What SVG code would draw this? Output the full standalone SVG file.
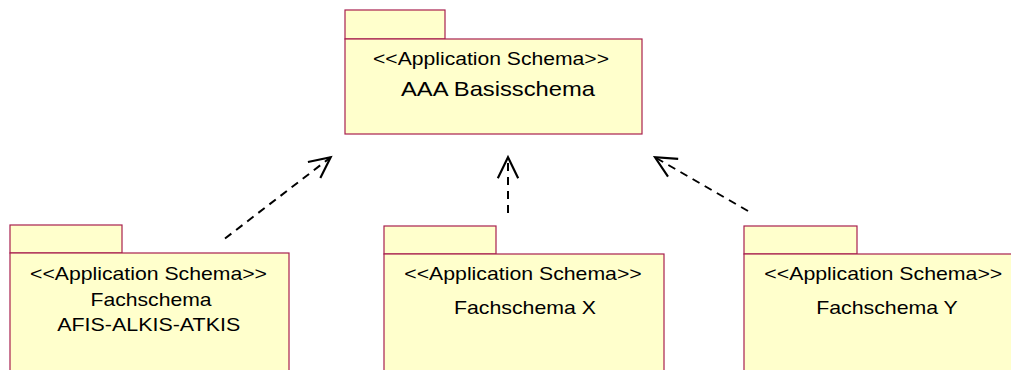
<svg xmlns="http://www.w3.org/2000/svg" width="1011" height="370" viewBox="0 0 1011 370">
<style>
.pk{fill:#FFFFCC;stroke:#A8204E;stroke-width:1.2}
.t{font-family:"Liberation Sans",Arial,sans-serif;fill:#000;text-anchor:middle}
.s{font-size:18.5px}
.b{font-size:21px}
.dep{fill:none;stroke:#000;stroke-width:2;stroke-dasharray:8,6}
.ah{fill:none;stroke:#000;stroke-width:2}
</style>
<defs>
<marker id="open" markerUnits="userSpaceOnUse" markerWidth="30" markerHeight="30" refX="0" refY="0" viewBox="-24 -12 28 24" orient="auto" overflow="visible">
<path d="M-19.5,-9.5 L0,0 L-19.5,9.5" class="ah"/>
</marker>
</defs>
<rect width="1011" height="370" fill="#fff"/>
<g id="basis">
<rect class="pk" x="345" y="10" width="100" height="29"/>
<rect class="pk" x="345" y="39" width="297" height="95"/>
<text class="t" style="font-size:17.5px" x="491" y="65" textLength="236" lengthAdjust="spacingAndGlyphs">&lt;&lt;Application Schema&gt;&gt;</text>
<text class="t b" x="498" y="95.5" textLength="194" lengthAdjust="spacingAndGlyphs">AAA Basisschema</text>
</g>
<g id="afis">
<rect class="pk" x="10" y="225" width="112" height="28"/>
<rect class="pk" x="10" y="253" width="279" height="130"/>
<text class="t s" x="148.5" y="279.5" textLength="237" lengthAdjust="spacingAndGlyphs">&lt;&lt;Application Schema&gt;&gt;</text>
<text class="t s" x="151" y="306" textLength="121" lengthAdjust="spacingAndGlyphs">Fachschema</text>
<text class="t s" x="148.7" y="331" textLength="183" lengthAdjust="spacingAndGlyphs">AFIS-ALKIS-ATKIS</text>
</g>
<g id="fachX">
<rect class="pk" x="384" y="226" width="112" height="28"/>
<rect class="pk" x="384" y="254" width="280" height="130"/>
<text class="t s" x="523" y="279.5" textLength="237.5" lengthAdjust="spacingAndGlyphs">&lt;&lt;Application Schema&gt;&gt;</text>
<text class="t s" x="525" y="313.5" textLength="142" lengthAdjust="spacingAndGlyphs">Fachschema X</text>
</g>
<g id="fachY">
<rect class="pk" x="744" y="226" width="113" height="28"/>
<rect class="pk" x="744" y="254" width="280" height="130"/>
<text class="t s" x="883.3" y="280" textLength="238" lengthAdjust="spacingAndGlyphs">&lt;&lt;Application Schema&gt;&gt;</text>
<text class="t s" x="887" y="314" textLength="141.7" lengthAdjust="spacingAndGlyphs">Fachschema Y</text>
</g>
<g id="connectors">
<line class="dep" x1="225" y1="238.5" x2="330.7" y2="157.3" marker-end="url(#open)"/>
<line class="dep" x1="508" y1="213" x2="508" y2="157.3" marker-end="url(#open)"/>
<line class="dep" x1="748" y1="211" x2="655" y2="157.3" marker-end="url(#open)"/>
</g>
</svg>
